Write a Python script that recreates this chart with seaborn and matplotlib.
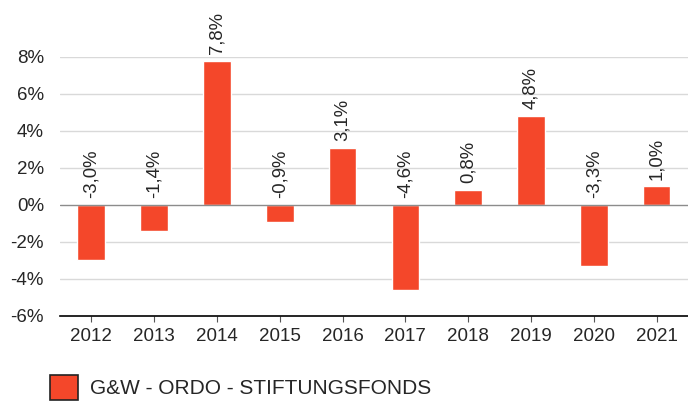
import matplotlib
matplotlib.use("Agg")
import matplotlib.pyplot as plt
import seaborn as sns
import pandas as pd
from matplotlib.patches import Patch

years = ["2012", "2013", "2014", "2015", "2016", "2017", "2018", "2019", "2020", "2021"]
returns = [-3.0, -1.4, 7.8, -0.9, 3.1, -4.6, 0.8, 4.8, -3.3, 1.0]
series_name = "G&W - ORDO - STIFTUNGSFONDS"
yticks = [-6, -4, -2, 0, 2, 4, 6, 8]

sns.set_style("white")
plt.rcParams['font.family'] = ['Liberation Sans', 'DejaVu Sans']

df = pd.DataFrame({"year": years, "ret": returns})
bar_color = "#F4472A"

fig = plt.figure(figsize=(6.88, 4.01), dpi=100)
ax = fig.add_axes([0.087, 0.212, 0.913, 0.646])
sns.barplot(data=df, x="year", y="ret", color=bar_color, saturation=1, width=0.44, ax=ax, zorder=3)

ax.set_ylim(-6, 8)
ax.set_yticks(yticks)
ax.set_yticklabels([f"{v}%" for v in yticks])
for v in yticks:
    if v == 0:
        ax.axhline(v, color="#8c8c8c", lw=1, zorder=4)
    elif v != -6:
        ax.axhline(v, color="#d9d9d9", lw=1, zorder=1)
ax.set_xlabel("")
ax.set_ylabel("")
for s in ["top", "right", "left"]:
    ax.spines[s].set_visible(False)
ax.spines["bottom"].set_color("black")
ax.spines["bottom"].set_linewidth(1.2)
ax.tick_params(axis="x", bottom=True, length=4, width=0.8, color="#555555", labelsize=13.5, pad=5)
ax.tick_params(axis="y", left=False, labelsize=13.5, pad=8)

for i, v in enumerate(returns):
    base = max(v, 0)
    ax.annotate(f"{v:.1f}%".replace(".", ","), xy=(i, base), xytext=(0, 5),
                textcoords="offset points", rotation=90, ha="center", va="bottom",
                fontsize=13.3, clip_on=False, annotation_clip=False)

handle = Patch(facecolor=bar_color, edgecolor="#222222", linewidth=1.2)
fig.legend([handle], [series_name], loc="upper left", bbox_to_anchor=(50 / 688, 1 - 375 / 401),
           frameon=False, fontsize=15, handlelength=1.35, handleheight=1.45, handletextpad=0.55,
           borderpad=0, borderaxespad=0)

fig.savefig("out.png", dpi=100)
